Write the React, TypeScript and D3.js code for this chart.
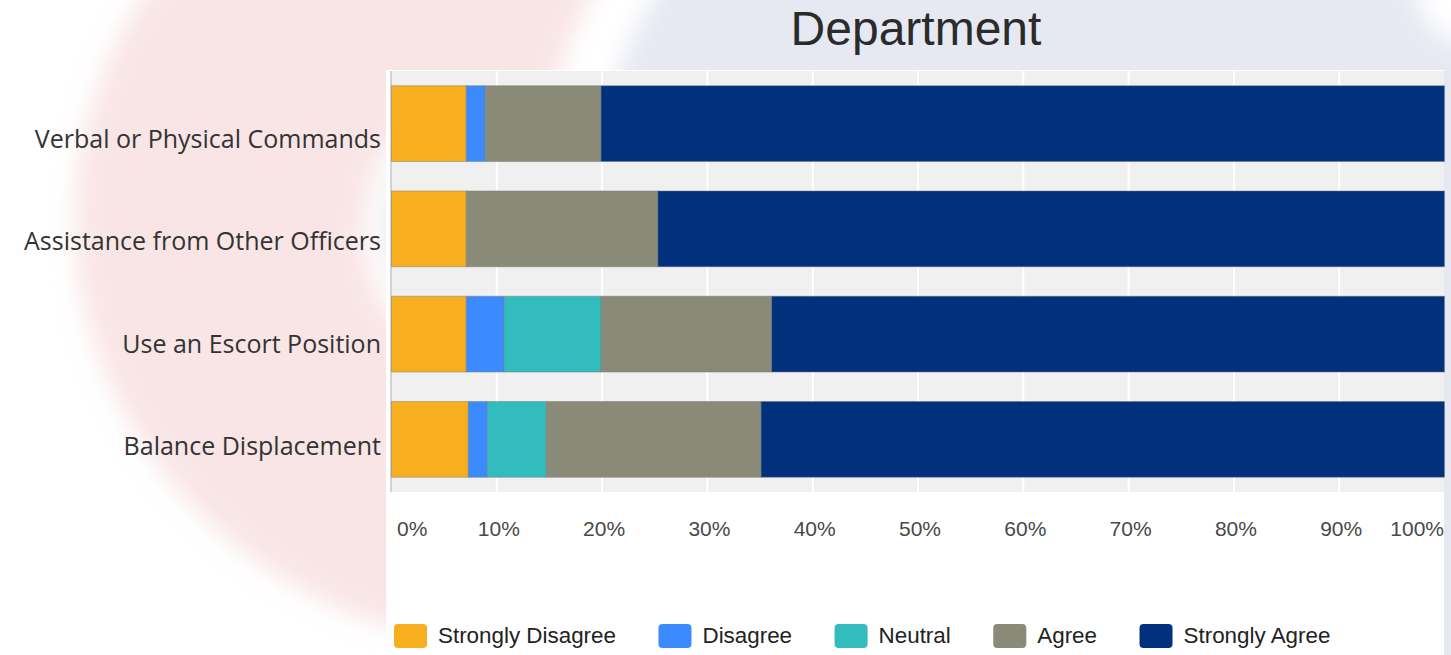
import React, { useEffect, useRef } from "react";
import * as d3 from "d3";

// survey answers, percent of respondents per technique
const categories = [
  "Verbal or Physical Commands",
  "Assistance from Other Officers",
  "Use an Escort Position",
  "Balance Displacement",
];
const seriesNames = ["Strongly Disagree", "Disagree", "Neutral", "Agree", "Strongly Agree"];
const stronglyDisagree = [7.1, 7.1, 7.1, 7.3];
const disagree = [1.8, 0, 3.6, 1.8];
const neutral = [0, 0, 9.2, 5.6];
const agree = [11.0, 18.2, 16.2, 20.4];
const stronglyAgree = [80.1, 74.7, 63.9, 64.9];
const seriesColors = ["#f7af1f", "#3b8bff", "#32bcbd", "#8a8a79", "#01317d"];
const tickValues = [0, 10, 20, 30, 40, 50, 60, 70, 80, 90, 100];
const chartTitle = "Department";

const W = 1451;
const H = 655;

export default function App() {
  const ref = useRef<SVGSVGElement>(null);

  useEffect(() => {
    const svg = d3.select(ref.current);
    svg.selectAll("*").remove();

    const plot = { left: 391.5, right: 1444.5, top: 71, bottom: 492 };

    // faded logo behind the slide
    const defs = svg.append("defs");
    defs.append("filter").attr("id", "soft").attr("x", "-50%").attr("y", "-50%")
      .attr("width", "200%").attr("height", "200%")
      .append("feGaussianBlur").attr("stdDeviation", 12);
    svg.append("rect").attr("width", W).attr("height", H).attr("fill", "#ffffff");
    const bg = svg.append("g").attr("filter", "url(#soft)");
    bg.append("ellipse").attr("cx", 540).attr("cy", 220).attr("rx", 465).attr("ry", 430).attr("fill", "#f9e5e6");
    bg.append("circle").attr("cx", 1133).attr("cy", 270).attr("r", 607).attr("fill", "#ffffff");
    bg.append("circle").attr("cx", 1133).attr("cy", 270).attr("r", 552).attr("fill", "#e6e9f2");
    bg.append("ellipse").attr("cx", 445).attr("cy", 230).attr("rx", 80).attr("ry", 115).attr("fill", "#ffffff");
    bg.append("ellipse").attr("cx", 445).attr("cy", 228).attr("rx", 60).attr("ry", 85).attr("fill", "#e6e9f2");
    bg.append("circle").attr("cx", 1475).attr("cy", -15).attr("r", 60).attr("fill", "#ffffff");

    // white chart panel
    svg.append("rect").attr("x", 386).attr("y", 70).attr("width", 1444 - 386).attr("height", H - 70).attr("fill", "#ffffff");

    svg.append("text")
      .attr("x", 916).attr("y", 45)
      .attr("text-anchor", "middle")
      .style("font-family", "'Liberation Sans', Arial, sans-serif")
      .style("font-size", "48px")
      .attr("fill", "#2b2b2b")
      .text(chartTitle);

    const x = d3.scaleLinear().domain([0, 100]).range([plot.left, plot.right]);
    const y = d3.scaleBand().domain(categories).range([plot.top, plot.bottom])
      .paddingInner(0.28).paddingOuter(0.14);
    const labelY = d3.scalePoint().domain(categories).range([148, 455]);

    svg.append("rect")
      .attr("x", plot.left).attr("y", plot.top)
      .attr("width", 1444 - plot.left).attr("height", plot.bottom - plot.top)
      .attr("fill", "#f0f0f0");

    svg.append("g").selectAll("line")
      .data(tickValues.filter(t => t > 0 && t < 100))
      .enter().append("line")
      .attr("x1", d => x(d)).attr("x2", d => x(d))
      .attr("y1", plot.top).attr("y2", plot.bottom)
      .attr("stroke", "#ffffff").attr("stroke-width", 2);

    svg.append("line")
      .attr("x1", plot.left - 0.5).attr("x2", plot.left - 0.5)
      .attr("y1", plot.top).attr("y2", plot.bottom)
      .attr("stroke", "#c4c4c4").attr("stroke-width", 1.5);

    const rows = categories.map((c, i) => ({
      category: c,
      "Strongly Disagree": stronglyDisagree[i],
      "Disagree": disagree[i],
      "Neutral": neutral[i],
      "Agree": agree[i],
      "Strongly Agree": stronglyAgree[i],
    }));
    const stacked = d3.stack<any>().keys(seriesNames)(rows);

    const layers = svg.append("g").selectAll("g")
      .data(stacked)
      .enter().append("g")
      .attr("fill", (d, i) => seriesColors[i]);
    layers.selectAll("rect")
      .data(d => d.filter(s => s[1] - s[0] > 0))
      .enter().append("rect")
      .attr("x", d => x(d[0]))
      .attr("width", d => x(d[1]) - x(d[0]))
      .attr("y", d => y(d.data.category) as number)
      .attr("height", y.bandwidth())
      .attr("stroke", "rgba(120,120,120,0.45)")
      .attr("stroke-width", 1);

    svg.append("g").selectAll("text")
      .data(categories)
      .enter().append("text")
      .attr("x", 381)
      .attr("y", d => labelY(d) as number)
      .attr("text-anchor", "end")
      .style("font-family", "'Open Sans', sans-serif")
      .style("font-size", "25px")
      .attr("fill", "#333333")
      .text(d => d);

    // tick labels, kept inside the plot at both ends
    const ticks = svg.append("g").selectAll("text")
      .data(tickValues)
      .enter().append("text")
      .attr("y", 536)
      .style("font-family", "'Liberation Sans', Arial, sans-serif")
      .style("font-size", "21px")
      .attr("fill", "#484848")
      .text(d => d + "%");
    ticks.each(function (d) {
      const el = this as SVGTextElement;
      const w = el.getComputedTextLength();
      const left = Math.min(Math.max(x(d) + 2 - w / 2, plot.left + 5.5), 1444 - w);
      d3.select(el).attr("x", left);
    });

    // legend
    let lx = 394;
    seriesNames.forEach((name, i) => {
      svg.append("rect")
        .attr("x", lx).attr("y", 624)
        .attr("width", 33).attr("height", 24).attr("rx", 4)
        .attr("fill", seriesColors[i]);
      const t = svg.append("text")
        .attr("x", lx + 44).attr("y", 643)
        .style("font-family", "'Liberation Sans', Arial, sans-serif")
        .style("font-size", "22.4px")
        .attr("fill", "#222222")
        .text(name);
      lx = lx + 44 + (t.node() as SVGTextElement).getComputedTextLength() + 42.5;
    });
  }, []);

  return (
    <svg ref={ref} width={W} height={H}
      style={{ position: "absolute", left: 0, top: 0, display: "block" }} />
  );
}
